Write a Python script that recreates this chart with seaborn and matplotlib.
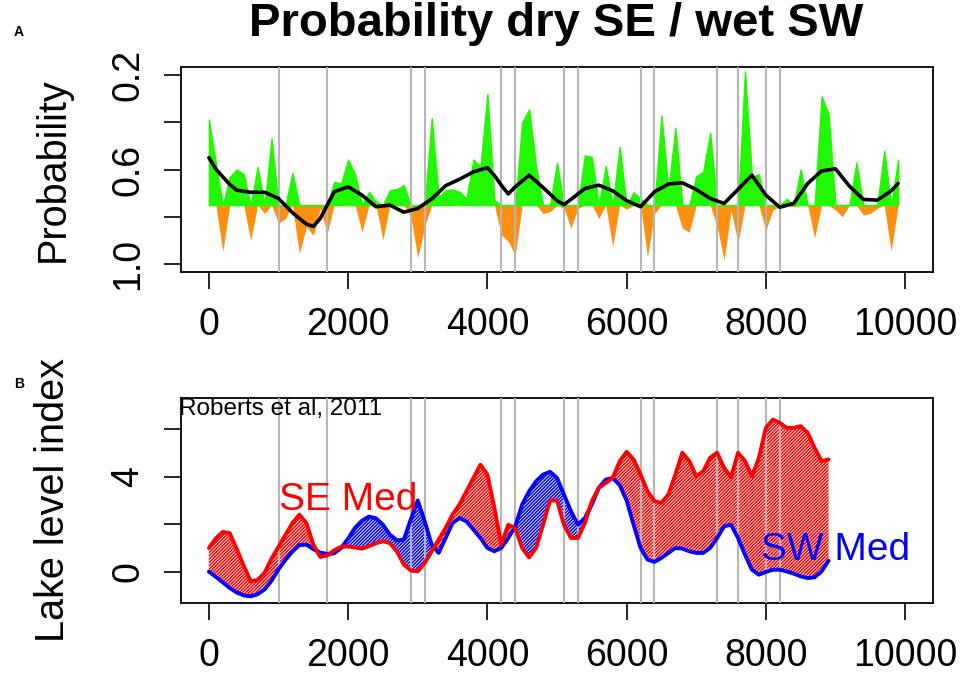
import numpy as np
import pandas as pd
import matplotlib
matplotlib.use('Agg')
import matplotlib.pyplot as plt
import seaborn as sns

# ---- values ----

# panel A: probability, one value per century (0 .. 9900 yr)
years_a = np.arange(0, 10000, 100)
prob = [0.389, 0.575, 0.945, 0.631, 0.600, 0.620, 0.899, 0.589, 0.785, 0.470,
        0.827, 0.806, 0.614, 0.955, 0.840, 0.878, 0.764, 0.868, 0.652, 0.659,
        0.558, 0.620, 0.864, 0.694, 0.736, 0.896, 0.687, 0.682, 0.666, 0.799,
        0.971, 0.840, 0.383, 0.715, 0.687, 0.684, 0.694, 0.722, 0.558, 0.589,
        0.281, 0.729, 0.875, 0.903, 0.962, 0.400, 0.347, 0.589, 0.785, 0.778,
        0.571, 0.764, 0.847, 0.764, 0.540, 0.547, 0.806, 0.585, 0.924, 0.505,
        0.768, 0.696, 0.722, 0.969, 0.785, 0.372, 0.687, 0.424, 0.847, 0.864,
        0.628, 0.610, 0.445, 0.840, 0.983, 0.771, 0.910, 0.186, 0.631, 0.620,
        0.857, 0.771, 0.754, 0.724, 0.757, 0.599, 0.750, 0.889, 0.292, 0.365,
        0.771, 0.799, 0.750, 0.571, 0.792, 0.785, 0.764, 0.522, 0.943, 0.558]
base_a = 0.75

# smoothed curve (black)
smooth_years = [0, 100, 200, 300, 400, 600, 800, 1000, 1200, 1400, 1500, 1600,
                1800, 2000, 2200, 2400, 2600, 2800, 3000, 3200, 3400, 3600,
                3800, 4000, 4100, 4200, 4300, 4400, 4600, 4800, 5000, 5100,
                5200, 5400, 5600, 5800, 6000, 6200, 6400, 6600, 6800, 7000,
                7200, 7400, 7600, 7800, 8000, 8200, 8400, 8600, 8800, 9000,
                9200, 9400, 9600, 9800, 9900]
smooth_prob = [0.550, 0.598, 0.631, 0.663, 0.687, 0.696, 0.696, 0.722, 0.782,
               0.830, 0.840, 0.806, 0.694, 0.673, 0.708, 0.757, 0.750, 0.780,
               0.764, 0.724, 0.668, 0.641, 0.610, 0.592, 0.625, 0.666, 0.703,
               0.673, 0.624, 0.676, 0.731, 0.748, 0.726, 0.680, 0.666, 0.690,
               0.731, 0.757, 0.694, 0.661, 0.656, 0.684, 0.722, 0.743, 0.684,
               0.624, 0.708, 0.759, 0.743, 0.659, 0.606, 0.597, 0.670, 0.726,
               0.729, 0.690, 0.659]

# panel B: lake level index (0 .. 8900 yr)
years_b = np.arange(0, 9000, 100)
se_med = [1.00, 1.40, 1.68, 1.62, 0.95, 0.25, -0.41, -0.35, -0.05, 0.55,
          1.05, 1.55, 2.05, 2.40, 2.05, 1.14, 0.62, 0.68, 0.90, 1.05,
          1.06, 1.02, 0.97, 1.08, 1.20, 1.28, 1.20, 0.85, 0.30, 0.05,
          0.01, 0.37, 0.86, 1.35, 1.84, 2.41, 2.83, 3.39, 3.95, 4.51,
          4.09, 2.69, 1.14, 1.98, 1.84, 1.00, 0.60, 1.00, 1.98, 3.00,
          3.00, 1.98, 1.42, 1.42, 2.05, 2.97, 3.53, 3.74, 3.95, 4.65,
          5.05, 4.73, 4.09, 3.39, 2.97, 2.90, 3.25, 4.09, 5.01, 4.66,
          4.02, 4.23, 4.80, 5.01, 4.37, 3.98, 5.01, 4.66, 4.02, 4.80,
          6.06, 6.41, 6.27, 6.06, 6.06, 6.13, 5.85, 5.22, 4.66, 4.73]
sw_med = [0.00, -0.22, -0.45, -0.69, -0.88, -1.00, -1.04, -0.95, -0.75, -0.38,
          0.10, 0.50, 0.85, 1.12, 1.14, 0.95, 0.80, 0.75, 0.77, 1.00,
          1.40, 1.85, 2.15, 2.32, 2.25, 1.98, 1.56, 1.32, 1.35, 2.20,
          3.00, 2.12, 1.14, 0.79, 1.42, 2.05, 2.26, 2.12, 1.77, 1.42,
          1.00, 0.86, 1.00, 1.42, 1.91, 2.83, 3.39, 3.81, 4.09, 4.21,
          3.95, 3.25, 2.55, 1.98, 2.26, 2.83, 3.53, 3.88, 3.95, 3.65,
          3.00, 1.98, 1.00, 0.51, 0.41, 0.58, 0.79, 1.00, 0.97, 0.86,
          0.79, 0.79, 1.00, 1.42, 1.91, 1.98, 1.42, 0.72, 0.08, -0.13,
          -0.01, 0.08, 0.08, 0.01, -0.08, -0.20, -0.27, -0.24, 0.01, 0.46]

# grey event lines
event_years = [1000, 1700, 2900, 3100, 4200, 4400, 5100, 5300,
               6200, 6400, 7300, 7600, 8000, 8200]

x_ticks = [0, 2000, 4000, 6000, 8000, 10000]

# ---- style ----
sns.set_theme(style='white')
plt.rcParams['font.family'] = ['Liberation Sans', 'DejaVu Sans']
plt.rcParams['text.color'] = 'black'
plt.rcParams['axes.labelcolor'] = 'black'
plt.rcParams['hatch.color'] = 'white'
plt.rcParams['hatch.linewidth'] = 0.6

prob = np.array(prob)
se_med = np.array(se_med)
sw_med = np.array(sw_med)

fig = plt.figure(figsize=(9.64, 6.75), dpi=100)
ax1 = fig.add_axes([0.1878, 0.597, 0.780, 0.3037])
ax2 = fig.add_axes([0.1878, 0.1067, 0.780, 0.3037])

# ---- panel A ----
ax1.fill_between(years_a, np.maximum(prob, base_a), base_a,
                 facecolor='#ff8f10', linewidth=0, zorder=1)
ax1.fill_between(years_a, np.minimum(prob, base_a), base_a,
                 facecolor='#22f800', edgecolor='#22f800', linewidth=1.0, zorder=2)
for yr in event_years:
    ax1.axvline(yr, color='#b5b5b5', lw=1.5, zorder=3)
sns.lineplot(x=smooth_years, y=smooth_prob, ax=ax1, color='black', lw=2.6, zorder=4)

ax1.set_xlim(-400, 10400)
ax1.set_ylim(1.032, 0.168)
ax1.set_yticks([0.2, 0.4, 0.6, 0.8, 1.0])
ax1.set_yticklabels(['0.2', '', '0.6', '', '1.0'])
ax1.set_ylabel('Probability', fontsize=28.5)

# ---- panel B ----
ax2.fill_between(years_b, se_med, sw_med, where=se_med >= sw_med, interpolate=True,
                 facecolor='red', edgecolor='white', hatch='//////////', linewidth=0, zorder=1)
ax2.fill_between(years_b, se_med, sw_med, where=se_med < sw_med, interpolate=True,
                 facecolor='blue', edgecolor='white', hatch='//////////', linewidth=0, zorder=1)
for yr in event_years:
    ax2.axvline(yr, color='#b5b5b5', lw=1.5, zorder=3)
sns.lineplot(x=years_b, y=sw_med, ax=ax2, color='blue', lw=2.8, zorder=4)
sns.lineplot(x=years_b, y=se_med, ax=ax2, color='red', lw=2.8, zorder=5)

ax2.text(1030, 6.85, 'Roberts et al, 2011', fontsize=17.5, ha='center', va='center',
         clip_on=True, zorder=6)
ax2.text(2000, 3.0, 'SE Med', fontsize=28, color='red', ha='center', va='center', zorder=6)
ax2.text(9000, 0.92, 'SW Med', fontsize=28, color='blue', ha='center', va='center', zorder=6)

ax2.set_xlim(-400, 10400)
ax2.set_ylim(-1.32, 7.32)
ax2.set_yticks([0, 2, 4, 6])
ax2.set_yticklabels(['0', '', '4', ''])
ax2.set_ylabel('Lake level index', fontsize=28.5)

# ---- shared axis cosmetics ----
for ax in (ax1, ax2):
    ax.set_xticks(x_ticks)
    ax.set_xticklabels([str(t) for t in x_ticks])
    ax.set_xlabel('')
    ax.tick_params(axis='both', direction='out', length=12, width=1.2,
                   colors='black', labelsize=27, left=True, bottom=True)
    ax.tick_params(axis='x', pad=13)
    ax.tick_params(axis='y', pad=13, labelrotation=90)
    for lbl in ax.get_yticklabels():
        lbl.set_va('center')
    ax.yaxis.set_label_coords(-0.145, 0.5)
    for sp in ax.spines.values():
        sp.set_color('black')
        sp.set_linewidth(1.3)

fig.text(0.577, 0.965, 'Probability dry SE / wet SW', fontsize=34,
         fontweight='bold', ha='center', va='center')
fig.text(14 / 964, 1 - 32 / 675, 'A', fontsize=10, fontweight='bold', ha='left', va='center')
fig.text(14 / 964, 1 - 384 / 675, 'B', fontsize=10, fontweight='bold', ha='left', va='center')

fig.savefig('out.png', dpi=100)
